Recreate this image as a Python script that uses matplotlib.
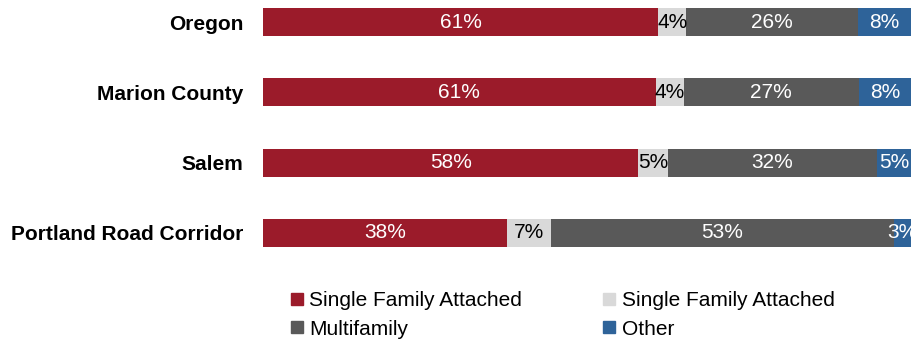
import matplotlib.pyplot as plt
from matplotlib.lines import Line2D

areas = ['Oregon', 'Marion County', 'Salem', 'Portland Road Corridor']
sf_detached = [61.0, 60.6, 57.9, 37.6]
sf_attached = [4.3, 4.4, 4.6, 6.8]
multifamily = [26.5, 26.9, 32.2, 53.0]
other = [8.2, 8.1, 5.3, 2.6]

series_names = ['Single Family Attached', 'Single Family Attached', 'Multifamily', 'Other']
colors = ['#9B1B2A', '#D9D9D9', '#595959', '#2E6399']
text_colors = ['white', 'black', 'white', 'white']

plt.rcParams['font.family'] = ['Liberation Sans', 'DejaVu Sans']

fig = plt.figure(figsize=(9.22, 3.41), dpi=100)
ax = fig.add_axes([263 / 922, 1 - 260 / 341, 648 / 922, 260 / 341])

ypos = list(range(len(areas)))
left = [0.0] * len(areas)
for vals, col, tcol in zip([sf_detached, sf_attached, multifamily, other], colors, text_colors):
    ax.barh(ypos, vals, left=left, height=0.4, color=col)
    for y, v, l in zip(ypos, vals, left):
        ax.text(l + v / 2, y, '%d%%' % round(v), ha='center', va='center',
                color=tcol, fontsize=15)
    left = [a + b for a, b in zip(left, vals)]

ax.set_xlim(0, 100)
ax.set_ylim(3 + 27 / 70.3, -22 / 70.3)
ax.set_yticks(ypos)
ax.set_yticklabels(areas, fontsize=15, fontweight='bold')
ax.tick_params(axis='y', length=0, pad=14)
ax.set_xticks([])
for s in ax.spines.values():
    s.set_visible(False)

# legend: row-major order, so reorder for column fill
handles = [Line2D([], [], marker='s', linestyle='none', markersize=8, color=c) for c in colors]
order = [0, 2, 1, 3]
fig.legend([handles[i] for i in order], [series_names[i] for i in order],
           ncol=2, loc='upper left', bbox_to_anchor=(282 / 922, 1 - 283 / 341),
           frameon=False, fontsize=15, handlelength=0.6, handletextpad=0.3,
           columnspacing=3.9, labelspacing=0.45, borderaxespad=0)

plt.savefig('out.png', dpi=100)
